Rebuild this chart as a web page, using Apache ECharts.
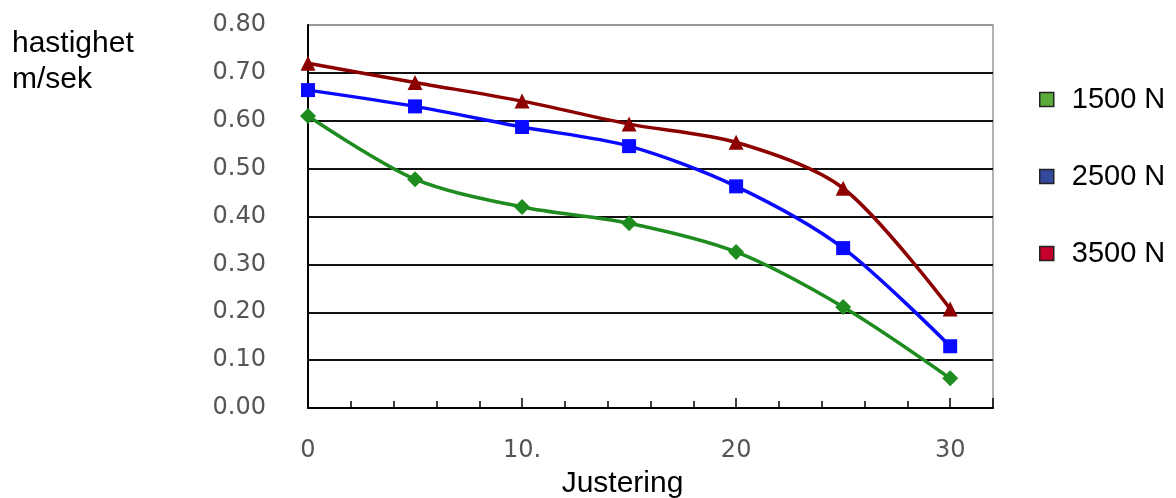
<!DOCTYPE html>
<html>
<head>
<meta charset="utf-8">
<script src="https://cdn.jsdelivr.net/npm/echarts@6/dist/echarts.min.js"></script>
<style>html,body{margin:0;padding:0;background:#fff}#c{width:1176px;height:498px}</style>
</head>
<body>
<div id="c"></div>
<script>
const xValues = [0, 5, 10, 15, 20, 25, 30];
const series1500 = [0.61, 0.478, 0.42, 0.386, 0.326, 0.211, 0.062];
const series2500 = [0.664, 0.63, 0.587, 0.547, 0.463, 0.334, 0.129];
const series3500 = [0.72, 0.68, 0.641, 0.593, 0.555, 0.459, 0.207];
const seriesNames = ['1500 N', '2500 N', '3500 N'];
const xTickLabels = {0: '0', 10: '10.', 20: '20', 30: '30'};
const yTitle = 'hastighet\nm/sek';
const xTitle = 'Justering';

const pts = arr => xValues.map((x, i) => [x, arr[i]]);
const chart = echarts.init(document.getElementById('c'));
const labelFont = {fontFamily: 'DejaVu Sans', fontSize: 24, color: '#555'};
chart.setOption({
  animation: false,
  title: {text: yTitle, left: 7, top: 21, textStyle: {fontFamily: 'Liberation Sans', fontSize: 30, fontWeight: 'normal', color: '#000', lineHeight: 36}},
  grid: {left: 308, right: 183, top: 25, bottom: 90, show: true, borderColor: '#999', borderWidth: 1.5, containLabel: false, outerBoundsMode: 'none'},
  legend: {
    orient: 'vertical', left: 1034, top: 80, itemWidth: 14, itemHeight: 14, itemGap: 48,
    textStyle: {fontFamily: 'Liberation Sans', fontSize: 29, color: '#000', lineHeight: 28, padding: [0, 0, 0, 13]},
    data: [
      {name: seriesNames[0], icon: 'rect', itemStyle: {color: '#5aaa3c', borderColor: '#222', borderWidth: 1.5}},
      {name: seriesNames[1], icon: 'rect', itemStyle: {color: '#33499c', borderColor: '#222', borderWidth: 1.5}},
      {name: seriesNames[2], icon: 'rect', itemStyle: {color: '#c4002a', borderColor: '#222', borderWidth: 1.5}}
    ]
  },
  xAxis: [{
    type: 'value', min: 0, max: 32, interval: 2,
    name: xTitle, nameLocation: 'middle', nameGap: 61,
    nameTextStyle: {fontFamily: 'Liberation Sans', fontSize: 30, color: '#000', padding: [0, 56, 0, 0]},
    axisLine: {lineStyle: {color: '#000', width: 2}},
    axisTick: {inside: true, length: 7, lineStyle: {color: '#000', width: 1.5}},
    axisLabel: Object.assign({margin: 31, formatter: v => xTickLabels[v] || '', showMaxLabel: false}, labelFont),
    splitLine: {show: false}
  }, {
    type: 'value', min: 0, max: 32, interval: 10, position: 'bottom',
    axisLine: {show: false},
    axisTick: {inside: true, length: 10, lineStyle: {color: '#000', width: 1.5}},
    axisLabel: {show: false}, splitLine: {show: false}
  }],
  yAxis: {
    type: 'value', min: 0, max: 0.8, interval: 0.1,
    axisLine: {show: true, lineStyle: {color: '#000', width: 2}},
    axisTick: {show: false},
    axisLabel: Object.assign({margin: 42, formatter: v => v.toFixed(2)}, labelFont),
    splitLine: {lineStyle: {color: ['#000', '#111', '#111', '#111', '#111', '#111', '#111', '#111', '#999'], width: 2}}
  },
  series: [
    {name: seriesNames[0], type: 'line', smooth: 0.3, data: pts(series1500), symbol: 'diamond', symbolSize: 16,
      lineStyle: {color: '#1e8c1e', width: 3.5}, itemStyle: {color: '#1e8c1e'}},
    {name: seriesNames[1], type: 'line', smooth: 0.3, data: pts(series2500), symbol: 'rect', symbolSize: 14,
      lineStyle: {color: '#0a0aff', width: 3.5}, itemStyle: {color: '#0a0aff'}},
    {name: seriesNames[2], type: 'line', smooth: 0.3, data: pts(series3500), symbol: 'triangle', symbolSize: 15,
      lineStyle: {color: '#8c0000', width: 3.5}, itemStyle: {color: '#8c0000'}}
  ]
});
</script>
</body>
</html>
